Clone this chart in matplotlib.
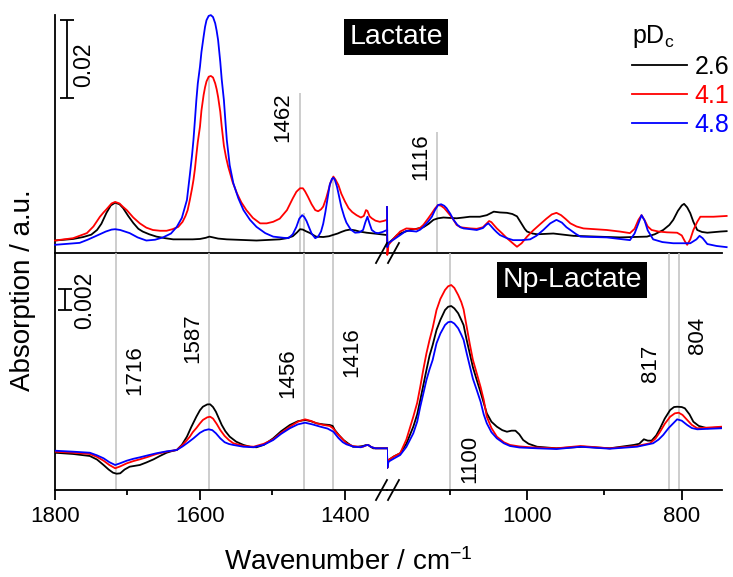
import matplotlib
matplotlib.use('Agg')
import matplotlib.pyplot as plt
from matplotlib.lines import Line2D

plt.rcParams['font.family'] = ['Liberation Sans', 'DejaVu Sans']
plt.rcParams['mathtext.fontset'] = 'custom'
plt.rcParams['mathtext.rm'] = 'Liberation Sans'
plt.rcParams['mathtext.it'] = 'Liberation Sans:italic'
plt.rcParams['mathtext.bf'] = 'Liberation Sans:bold'

# ---------------- data: (wavenumber / cm-1, absorbance) ----------------
series_labels = ['2.6', '4.1', '4.8']
series_colors = ['#000000', '#ff0000', '#0000ff']

# Lactate (top panel), 1800-1342 cm-1
lac_hi_k = [(1800, .0032), (1775, .0036), (1761, .0041), (1750, .0047), (1742, .0059), (1736, .0075),
            (1729, .0103), (1723, .0122), (1717, .0129), (1711, .0125), (1706, .0115), (1699, .0095),
            (1692, .0077), (1685, .0062), (1679, .0055), (1670, .0048), (1660, .0042), (1648, .0038),
            (1637, .0035), (1610, .0035), (1600, .0036), (1592, .0039), (1587, .0042), (1582, .0040),
            (1575, .0037), (1563, .0035), (1522, .0032), (1490, .0035), (1480, .0038), (1472, .0043),
            (1466, .0053), (1462, .0061), (1458, .0060), (1454, .0056), (1448, .0051), (1440, .0042),
            (1430, .0041), (1422, .0043), (1417, .0046), (1410, .0050), (1405, .0054), (1399, .0058),
            (1393, .0060), (1386, .0058), (1380, .0055), (1370, .0052), (1355, .0049), (1342, .0046)]

lac_hi_r = [(1800, .0032), (1775, .0038), (1756, .0051), (1747, .0068), (1738, .0093), (1733, .0104),
            (1729, .0112), (1722, .0127), (1717, .0131), (1711, .0127), (1706, .0118), (1701, .0110),
            (1692, .0091), (1683, .0076), (1674, .0065), (1665, .0059), (1655, .0057), (1646, .0057),
            (1638, .0061), (1630, .0067), (1624, .0080), (1620, .0095), (1617, .0110), (1614, .0136),
            (1611, .0165), (1609, .0187), (1607, .0215), (1605, .0251), (1603, .0285), (1600, .0324),
            (1598, .0365), (1595, .0405), (1593, .0425), (1591, .0440), (1588, .0452), (1585, .0454),
            (1582, .0450), (1579, .0435), (1577, .0420), (1575, .0400), (1572, .0362), (1570, .0324),
            (1567, .0275), (1564, .0245), (1561, .0221), (1555, .0182), (1549, .0153), (1543, .0130),
            (1536, .0110), (1527, .0090), (1517, .0076), (1508, .0076), (1499, .0080), (1490, .0088),
            (1480, .0110), (1472, .0140), (1467, .0157), (1462, .0166), (1458, .0166), (1455, .0158),
            (1451, .0144), (1446, .0125), (1441, .0110), (1437, .0107), (1433, .0112), (1430, .0119),
            (1426, .0140), (1423, .0160), (1420, .0180), (1416, .0196), (1413, .0188), (1409, .0174),
            (1405, .0152), (1400, .0132), (1395, .0115), (1390, .0105), (1384, .0097), (1378, .0091),
            (1374, .0095), (1371, .0110), (1369, .0108), (1366, .0094), (1363, .0089), (1358, .0083),
            (1352, .0080), (1347, .0082), (1342, .0085)]

lac_hi_b = [(1800, .0021), (1766, .0026), (1755, .0034), (1743, .0044), (1730, .0055), (1722, .0060),
            (1717, .0061), (1710, .0059), (1697, .0051), (1686, .0040), (1674, .0032), (1662, .0034),
            (1651, .0040), (1640, .0050), (1632, .0067), (1625, .0090), (1618, .0136), (1614, .0200),
            (1611, .0250), (1609, .0290), (1607, .0340), (1605, .0392), (1603, .0435), (1600, .0478),
            (1598, .0515), (1595, .0555), (1593, .0580), (1591, .0597), (1588, .0608), (1585, .0610),
            (1582, .0605), (1579, .0589), (1577, .0570), (1575, .0546), (1572, .0490), (1570, .0445),
            (1567, .0392), (1565, .0340), (1563, .0290), (1559, .0225), (1554, .0179), (1547, .0140),
            (1540, .0110), (1531, .0085), (1522, .0067), (1510, .0051), (1499, .0042), (1485, .0039),
            (1478, .0038), (1472, .0048), (1467, .0067), (1463, .0088), (1459, .0097), (1456, .0092),
            (1453, .0082), (1450, .0068), (1446, .0050), (1441, .0038), (1437, .0042), (1433, .0055),
            (1430, .0075), (1427, .0105), (1424, .0140), (1421, .0175), (1418, .0190), (1416, .0193),
            (1414, .0188), (1411, .0170), (1409, .0153), (1405, .0118), (1401, .0093), (1398, .0078),
            (1392, .0060), (1386, .0052), (1380, .0053), (1375, .0059), (1372, .0078), (1369, .0093),
            (1366, .0075), (1363, .0059), (1358, .0052), (1354, .0051), (1348, .0054), (1342, .0059)]

# Lactate (top panel), 1181-742 cm-1
lac_lo_k = [(1181, .0046), (1180.6, .0023), (1179, .0025), (1172, .0038), (1168, .0046), (1160, .0053),
            (1151, .0059), (1143, .0062), (1134, .0066), (1127, .0075), (1121, .0085), (1115, .0089),
            (1108, .0091), (1100, .0090), (1091, .0089), (1082, .0091), (1074, .0093), (1061, .0093),
            (1052, .0097), (1047, .0102), (1043, .0106), (1035, .0104), (1026, .0103), (1019, .0100),
            (1013, .0094), (1008, .0078), (1003, .0062), (1000, .0055), (993, .0050), (987, .0048),
            (966, .0050), (940, .0044), (910, .0042), (880, .0040), (845, .0042), (835, .0048),
            (824, .0059), (816, .0072), (811, .0085), (805, .0108), (800, .0122), (797, .0126),
            (793, .0117), (789, .0102), (785, .0080), (780, .0059), (774, .0054), (767, .0052),
            (750, .0055), (742, .0056)]

lac_lo_r = [(1181, .0118), (1180.6, -.0005), (1179, .0021), (1172, .0038), (1164, .0055), (1156, .0063),
            (1148, .0062), (1143, .0061), (1138, .0065), (1134, .0072), (1128, .0088), (1123, .0102),
            (1119, .0114), (1115, .0123), (1111, .0121), (1107, .0115), (1104, .0108), (1099, .0096),
            (1095, .0085), (1091, .0072), (1086, .0066), (1082, .0065), (1073, .0063), (1065, .0062),
            (1057, .0066), (1052, .0076), (1049, .0082), (1046, .0079), (1043, .0072), (1039, .0063),
            (1032, .0050), (1026, .0038), (1019, .0026), (1013, .0016), (1007, .0025), (1000, .0042),
            (992, .0058), (983, .0074), (975, .0088), (968, .0099), (962, .0103), (956, .0097),
            (950, .0087), (944, .0076), (936, .0068), (927, .0063), (912, .0061), (897, .0059),
            (880, .0055), (867, .0051), (861, .0062), (856, .0085), (852, .0097), (848, .0084),
            (844, .0068), (839, .0059), (830, .0055), (819, .0053), (806, .0052), (800, .0045),
            (796, .0030), (793, .0021), (789, .0035), (785, .0059), (780, .0080), (776, .0093),
            (759, .0093), (742, .0095)]

lac_lo_b = [(1181, .0118), (1180.6, .0015), (1179, .0026), (1172, .0035), (1164, .0046), (1156, .0057),
            (1148, .0056), (1143, .0055), (1138, .0060), (1134, .0067), (1128, .0080), (1123, .0093),
            (1119, .0110), (1115, .0123), (1111, .0125), (1107, .0121), (1104, .0115), (1099, .0100),
            (1095, .0085), (1090, .0072), (1086, .0066), (1082, .0063), (1073, .0061), (1065, .0059),
            (1057, .0064), (1053, .0072), (1050, .0076), (1047, .0070), (1043, .0061), (1039, .0053),
            (1035, .0046), (1026, .0038), (1018, .0033), (1007, .0033), (996, .0035), (988, .0044),
            (979, .0059), (970, .0076), (962, .0085), (955, .0078), (949, .0066), (944, .0059),
            (937, .0049), (931, .0042), (915, .0041), (897, .0040), (880, .0036), (867, .0033),
            (861, .0050), (856, .0076), (852, .0097), (848, .0083), (844, .0058), (837, .0035),
            (825, .0028), (811, .0025), (789, .0025), (781, .0035), (777, .0044), (773, .0038),
            (767, .0023), (755, .0018), (742, .0015)]

# Np-Lactate (bottom panel), 1800-1342 cm-1
np_hi_k = [(1800, .00355), (1775, .00343), (1752, .00324), (1742, .00290), (1733, .00238), (1726, .00195),
           (1720, .00165), (1715, .00155), (1710, .00159), (1704, .00195), (1697, .00222), (1690, .00230),
           (1683, .00238), (1674, .00262), (1664, .00292), (1655, .00325), (1646, .00355), (1639, .00370),
           (1632, .00381), (1625, .00430), (1618, .00508), (1612, .00600), (1605, .00698), (1600, .00760),
           (1596, .00793), (1590, .00815), (1586, .00816), (1582, .00790), (1578, .00745), (1575, .00698),
           (1570, .00620), (1565, .00560), (1559, .00508), (1550, .00460), (1540, .00429), (1530, .00410),
           (1522, .00407), (1512, .00430), (1499, .00492), (1488, .00560), (1476, .00619), (1465, .00655),
           (1455, .00667), (1447, .00655), (1439, .00635), (1430, .00625), (1421, .00619), (1417, .00610),
           (1414, .00571), (1408, .00520), (1402, .00476), (1395, .00440), (1389, .00412), (1382, .00412),
           (1375, .00419), (1371, .00428), (1368, .00429), (1364, .00410), (1361, .00397), (1342, .00397)]

np_hi_r = [(1800, .00365), (1775, .00355), (1752, .00343), (1742, .00315), (1733, .00279), (1725, .00238),
           (1717, .00207), (1710, .00225), (1701, .00254), (1692, .00275), (1683, .00292), (1672, .00315),
           (1660, .00343), (1646, .00365), (1632, .00381), (1624, .00430), (1618, .00475), (1614, .00508),
           (1610, .00550), (1605, .00590), (1600, .00635), (1596, .00667), (1590, .00692), (1586, .00698),
           (1582, .00680), (1577, .00630), (1572, .00571), (1566, .00515), (1560, .00475), (1554, .00445),
           (1540, .00420), (1526, .00412), (1512, .00440), (1499, .00483), (1488, .00545), (1476, .00603),
           (1465, .00650), (1455, .00673), (1447, .00658), (1439, .00635), (1430, .00620), (1421, .00610),
           (1416, .00585), (1411, .00540), (1404, .00490), (1398, .00445), (1390, .00420), (1382, .00412),
           (1375, .00412), (1371, .00425), (1368, .00429), (1364, .00410), (1358, .00397), (1342, .00397)]

np_hi_b = [(1800, .00374), (1775, .00365), (1752, .00355), (1742, .00330), (1733, .00302), (1725, .00265),
           (1717, .00238), (1710, .00255), (1701, .00279), (1692, .00297), (1683, .00311), (1672, .00330),
           (1660, .00350), (1646, .00368), (1632, .00381), (1624, .00415), (1616, .00455), (1609, .00492),
           (1600, .00545), (1594, .00568), (1588, .00578), (1583, .00570), (1578, .00540), (1572, .00492),
           (1566, .00455), (1560, .00438), (1554, .00429), (1540, .00412), (1526, .00407), (1512, .00430),
           (1499, .00476), (1488, .00535), (1476, .00588), (1465, .00625), (1455, .00641), (1445, .00625),
           (1434, .00603), (1424, .00585), (1416, .00555), (1409, .00495), (1403, .00455), (1398, .00435),
           (1388, .00412), (1378, .00407), (1371, .00425), (1368, .00429), (1364, .00410), (1358, .00397),
           (1342, .00397)]

# Np-Lactate (bottom panel), 1181-748 cm-1
np_lo_k = [(1181, .00397), (1180.6, .00210), (1179, .00286), (1172, .00320), (1164, .00350), (1156, .00440),
           (1147, .00603), (1142, .00720), (1138, .00857), (1134, .01000), (1130, .01143), (1126, .01280),
           (1122, .01380), (1117, .01524), (1112, .01620), (1106, .01714), (1102, .01745), (1098, .01752),
           (1094, .01730), (1089, .01683), (1085, .01620), (1082, .01570), (1078, .01429), (1074, .01300),
           (1070, .01170), (1065, .01048), (1060, .00930), (1056, .00830), (1052, .00730), (1046, .00650),
           (1039, .00603), (1032, .00570), (1026, .00555), (1020, .00565), (1015, .00565), (1010, .00530),
           (1005, .00476), (998, .00440), (987, .00412), (962, .00397), (927, .00412), (893, .00397),
           (862, .00429), (855, .00440), (849, .00483), (844, .00470), (839, .00470), (833, .00520),
           (828, .00588), (822, .00680), (815, .00762), (810, .00790), (806, .00793), (800, .00790),
           (796, .00778), (790, .00720), (785, .00650), (778, .00610), (767, .00588), (748, .00597)]

np_lo_r = [(1181, .00397), (1180.6, .00210), (1179, .00286), (1172, .00320), (1164, .00350), (1156, .00480),
           (1147, .00698), (1142, .00830), (1138, .00984), (1134, .01150), (1130, .01302), (1126, .01430),
           (1122, .01543), (1117, .01714), (1112, .01820), (1106, .01905), (1102, .01940), (1098, .01952),
           (1094, .01925), (1089, .01857), (1085, .01790), (1082, .01720), (1078, .01555), (1074, .01390),
           (1070, .01240), (1065, .01111), (1060, .00980), (1056, .00860), (1052, .00698), (1046, .00590),
           (1039, .00508), (1030, .00455), (1022, .00429), (1010, .00415), (996, .00407), (962, .00397),
           (931, .00419), (893, .00397), (858, .00419), (841, .00445), (834, .00490), (828, .00555),
           (822, .00630), (815, .00698), (809, .00730), (804, .00736), (799, .00715), (793, .00667),
           (787, .00620), (780, .00588), (765, .00595), (748, .00603)]

np_lo_b = [(1181, .00397), (1180.6, .00210), (1179, .00270), (1172, .00300), (1164, .00333), (1156, .00410),
           (1147, .00540), (1142, .00650), (1138, .00793), (1134, .00920), (1130, .01048), (1126, .01150),
           (1122, .01238), (1117, .01397), (1112, .01490), (1106, .01571), (1102, .01598), (1098, .01603),
           (1094, .01585), (1089, .01540), (1085, .01480), (1082, .01430), (1078, .01302), (1074, .01180),
           (1070, .01060), (1065, .00952), (1060, .00840), (1056, .00720), (1052, .00635), (1046, .00550),
           (1039, .00492), (1030, .00445), (1022, .00419), (1010, .00405), (987, .00397), (962, .00390),
           (931, .00412), (893, .00393), (858, .00412), (837, .00445), (830, .00480), (824, .00524),
           (817, .00590), (811, .00635), (806, .00673), (800, .00660), (793, .00619), (787, .00590),
           (780, .00578), (765, .00583), (748, .00588)]

# marker lines (wavenumber, top of line in panel units) and labels
lac_marks_hi = [1716, 1587, 1462, 1456, 1416]
lac_marks_hi_top = [.0129, .0454, .0410, .0103, .0195]
lac_marks_lo = [1116]
lac_marks_lo_top = [.0310]
np_marks_hi = [1716, 1587, 1456, 1416]
np_marks_lo = [1100, 817, 804]

# ---------------- figure ----------------
W, H = 733, 577
fig = plt.figure(figsize=(W / 100, H / 100), dpi=100)


def rect(x0, y0, x1, y1):
    return [x0 / W, 1 - y1 / H, (x1 - x0) / W, (y1 - y0) / H]


ax_tl = fig.add_axes(rect(55, 15, 387, 253))
ax_tr = fig.add_axes(rect(387, 15, 722, 253))
ax_bl = fig.add_axes(rect(55, 253, 387, 490))
ax_br = fig.add_axes(rect(387, 253, 722, 490))

HI_LIM = (1800, 1342)
LO_LIM = (1181, 748)
TOP_YLIM = (0, 0.06103)
BOT_YLIM = (0, 0.02257)

for ax, xl, yl in [(ax_tl, HI_LIM, TOP_YLIM), (ax_tr, LO_LIM, TOP_YLIM),
                   (ax_bl, HI_LIM, BOT_YLIM), (ax_br, LO_LIM, BOT_YLIM)]:
    ax.set_xlim(*xl)
    ax.set_ylim(*yl)
    ax.patch.set_alpha(0)
    ax.spines['top'].set_visible(False)
    ax.spines['right'].set_visible(False)
    for s in ax.spines.values():
        s.set_linewidth(1.3)
    ax.set_yticks([])
for ax in (ax_tr, ax_br):
    ax.spines['left'].set_visible(False)
for ax in (ax_tl, ax_tr):
    ax.set_xticks([])

ax_bl.set_xticks([1800, 1600, 1400])
ax_bl.set_xticks([1700, 1500], minor=True)
ax_br.set_xticks([1000, 800])
ax_br.set_xticks([1100, 900], minor=True)
for ax in (ax_bl, ax_br):
    ax.tick_params(axis='x', which='major', direction='out', length=7, width=1.3, labelsize=16, pad=4.5)
    ax.tick_params(axis='x', which='minor', direction='out', length=3.5, width=1.3)

GREY = '#c0c0c0'
ax_tl.vlines(lac_marks_hi, 0, lac_marks_hi_top, color=GREY, lw=1.1, zorder=1)
ax_tr.vlines(lac_marks_lo, 0, lac_marks_lo_top, color=GREY, lw=1.1, zorder=1)
for m in np_marks_hi:
    ax_bl.axvline(m, color=GREY, lw=1.1, zorder=1)
for m in np_marks_lo:
    ax_br.axvline(m, color=GREY, lw=1.1, zorder=1)

LW = 1.3
top_hi = [lac_hi_k, lac_hi_r, lac_hi_b]
top_lo = [lac_lo_k, lac_lo_r, lac_lo_b]
bot_hi = [np_hi_k, np_hi_r, np_hi_b]
bot_lo = [np_lo_k, np_lo_r, np_lo_b]

handles = []
for pts, c in zip(top_hi, series_colors):
    x, y = zip(*pts)
    ax_tl.plot(x, y, color=c, lw=LW, zorder=3, clip_on=False, solid_joinstyle='round')
for pts, c, lab in zip(top_lo, series_colors, series_labels):
    x, y = zip(*pts)
    h, = ax_tr.plot(x, y, color=c, lw=LW, zorder=3, clip_on=False, label=lab, solid_joinstyle='round')
    handles.append(h)
for pts, c in zip(bot_hi, series_colors):
    x, y = zip(*pts)
    ax_bl.plot(x, y, color=c, lw=LW, zorder=3, solid_joinstyle='round')
for pts, c in zip(bot_lo, series_colors):
    x, y = zip(*pts)
    ax_br.plot(x, y, color=c, lw=LW, zorder=3, solid_joinstyle='round')

# peak labels
FS_PK = 16
ax_tl.text(1486, 0.0349, '1462', rotation=90, ha='center', va='center', fontsize=FS_PK)
ax_tr.text(1138, 0.0246, '1116', rotation=90, ha='center', va='center', fontsize=FS_PK)
ax_bl.text(1690, 0.01143, '1716', rotation=90, ha='center', va='center', fontsize=FS_PK)
ax_bl.text(1610, 0.01448, '1587', rotation=90, ha='center', va='center', fontsize=FS_PK)
ax_bl.text(1479, 0.01114, '1456', rotation=90, ha='center', va='center', fontsize=FS_PK)
ax_bl.text(1390, 0.01314, '1416', rotation=90, ha='center', va='center', fontsize=FS_PK)
ax_br.text(1074, 0.00295, '1100', rotation=90, ha='center', va='center', fontsize=FS_PK)
ax_br.text(841, 0.0121, '817', rotation=90, ha='center', va='center', fontsize=FS_PK)
ax_br.text(780, 0.01476, '804', rotation=90, ha='center', va='center', fontsize=FS_PK)

# scale bars
ax_tl.errorbar([1784], [0.04975], yerr=[0.01], color='k', elinewidth=1.3, capsize=5, capthick=1.3, zorder=4)
ax_tl.text(1760, 0.0483, '0.02', rotation=90, ha='center', va='center', fontsize=16.5)
ax_bl.errorbar([1786], [0.01814], yerr=[0.001], color='k', elinewidth=1.3, capsize=5, capthick=1.3, zorder=4)
ax_bl.text(1759, 0.01805, '0.002', rotation=90, ha='center', va='center', fontsize=16.5)

# panel titles
fig.text(396 / W, 1 - 37 / H, 'Lactate', ha='center', va='center', color='white', fontsize=20.5,
         bbox=dict(boxstyle='square,pad=0.18', fc='black', ec='none'))
fig.text(572 / W, 1 - 280 / H, 'Np-Lactate', ha='center', va='center', color='white', fontsize=20.5,
         bbox=dict(boxstyle='square,pad=0.18', fc='black', ec='none'))

# axis labels
fig.text(348 / W, 1 - 570 / H, 'Wavenumber / cm$^{-1}$', ha='center', va='baseline', fontsize=20)
fig.text(23 / W, 1 - 290.5 / H, 'Absorption / a.u.', rotation=90, ha='center', va='center', fontsize=20)

# break marks
for cy in (253, 490):
    for cx in (381.5, 393.5):
        fig.add_artist(Line2D([(cx - 5.5) / W, (cx + 5.5) / W], [1 - (cy + 10) / H, 1 - (cy - 10) / H],
                              transform=fig.transFigure, color='k', lw=1.3))

# legend
fig.legend(handles, series_labels, loc='upper left', bbox_to_anchor=(632 / W, 1 - 23 / H),
           bbox_transform=fig.transFigure, frameon=False, fontsize=18,
           title='pD$_\\mathrm{c}$', title_fontsize=18, handlelength=2.2, handletextpad=0.3,
           labelspacing=0.2, borderpad=0, borderaxespad=0, labelcolor='linecolor', alignment='left')

fig.savefig('out.png', dpi=100)
